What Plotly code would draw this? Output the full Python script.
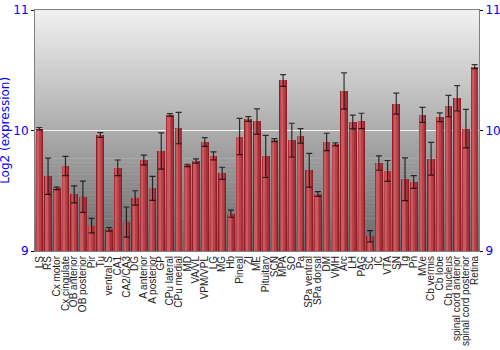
import plotly.graph_objects as go

regions = ["LS", "RS", "Cx motor", "Cx cingulate", "OB anterior", "OB posterior", "Pir", "Tu",
           "ventral S", "CA1", "CA2/CA3", "DG", "A anterior", "A posterior", "GP", "CPu lateral",
           "CPu medial", "MD", "VA/VL", "VPM/VPL", "LG", "MG", "Hb", "Pineal", "ZI", "ME",
           "Pituitary", "SCN", "MPA", "SO", "Pa", "SPa ventral", "SPa dorsal", "DM", "VMH", "Arc",
           "LH", "PAG", "SC", "IC", "VTA", "SN", "Tg", "Pn", "MVe", "Cb vermis", "Cb lobe",
           "Cb nucleus", "spinal cord anterior", "spinal cord posterior", "Retina"]

expression = [10.015, 9.62, 9.52, 9.705, 9.47, 9.45, 9.21, 9.963,
              9.18, 9.69, 9.24, 9.44, 9.755, 9.52, 9.83, 10.13,
              10.02, 9.71, 9.747, 9.905, 9.79, 9.645, 9.31, 9.95, 10.095, 10.075,
              9.785, 9.92, 10.415, 9.92, 9.955, 9.67, 9.473, 9.905, 9.885, 10.328,
              10.07, 10.079, 9.122, 9.73, 9.664, 10.223, 9.595, 9.573, 10.13, 9.766, 10.11,
              10.203, 10.267, 10.016, 10.53]

error = [0.01, 0.15, 0.01, 0.08, 0.07, 0.13, 0.06, 0.02,
         0.015, 0.065, 0.125, 0.06, 0.04, 0.1, 0.15, 0.01,
         0.13, 0.01, 0.018, 0.036, 0.033, 0.05, 0.03, 0.15, 0.02, 0.105,
         0.175, 0.012, 0.048, 0.14, 0.06, 0.14, 0.02, 0.072, 0.012, 0.15,
         0.057, 0.064, 0.047, 0.06, 0.087, 0.087, 0.177, 0.053, 0.062, 0.136, 0.036,
         0.089, 0.105, 0.16, 0.017]

y_ticks = [9, 10, 11]
BASE = 9

heights = [v - BASE for v in expression]
fig = go.Figure()

# cylinder-like shading: stacked overlay bars of decreasing width
layers = [
    (0.88, -0.44, "#8c1f24"),
    (0.74, -0.40, "#a5303a"),
    (0.52, -0.36, "#b9424a"),
    (0.26, -0.30, "#c85a60"),
]
for i, (w, off, col) in enumerate(layers):
    fig.add_trace(go.Bar(
        x=regions, y=heights, base=BASE, width=w, offset=off,
        marker=dict(color=col, line=dict(width=0)),
        hoverinfo="skip", showlegend=False,
    ))

# error bars
fig.add_trace(go.Scatter(
    x=regions, y=expression, mode="markers",
    marker=dict(size=0.1, color="rgba(0,0,0,0)"),
    error_y=dict(type="data", array=error, visible=True,
                 color="rgba(0,0,0,0.75)", thickness=1.2, width=3),
    showlegend=False, hoverinfo="skip",
))

# invisible trace to show right axis
fig.add_trace(go.Scatter(x=regions, y=expression, yaxis="y2", mode="markers",
                         marker=dict(size=0.1, color="rgba(0,0,0,0)"),
                         showlegend=False, hoverinfo="skip"))

# vertical grey gradient background
n = 60
shapes = []
for k in range(n):
    t = k / (n - 1)
    c = int(round(0x68 + (0xf0 - 0x68) * t))
    shapes.append(dict(type="rect", xref="x domain", yref="y domain",
                       x0=0, x1=1, y0=k / n, y1=(k + 1) / n + 0.002,
                       fillcolor=f"rgb({c},{c},{c})", line=dict(width=0),
                       layer="below"))

fig.update_layout(
    width=500, height=350,
    margin=dict(l=35, r=21, t=10, b=99, autoexpand=False),
    paper_bgcolor="white", plot_bgcolor="rgba(0,0,0,0)",
    barmode="overlay", bargap=0,
    shapes=shapes,
    annotations=[dict(text="Log2 (expression)", textangle=-90,
                      xref="paper", yref="y domain", x=-0.069, y=0.5,
                      xanchor="center", yanchor="middle", showarrow=False,
                      borderpad=0,
                      font=dict(family="DejaVu Sans", size=12, color="#0000ff"))],
    xaxis=dict(
        type="category", tickangle=-90, showgrid=False, ticks="",
        tickmode="array", tickvals=regions, ticktext=regions,
        tickfont=dict(family="Liberation Sans", size=10, color="#222"),
        showline=True, linecolor="#808080", linewidth=1, mirror=True,
        range=[-0.5, len(regions) - 0.5], automargin=False,
    ),
    yaxis=dict(
        range=[9, 11], tickvals=y_ticks, ticktext=[str(t) for t in y_ticks],
        showgrid=True, gridcolor="#f4f4f4", gridwidth=1.2,
        zeroline=False, ticks="outside", ticklen=3, tickcolor="black",
        tickfont=dict(family="DejaVu Sans", size=12, color="#0000ff"),
        showline=True, linecolor="#808080", linewidth=1, automargin=False,
    ),
    yaxis2=dict(
        range=[9, 11], tickvals=y_ticks, ticktext=[str(t) for t in y_ticks],
        overlaying="y", side="right", showgrid=False, zeroline=False,
        ticks="outside", ticklen=3, tickcolor="black",
        tickfont=dict(family="DejaVu Sans", size=12, color="#0000ff"),
        showline=True, linecolor="#808080", linewidth=1, automargin=False,
    ),
)

fig.write_html("out.html")
